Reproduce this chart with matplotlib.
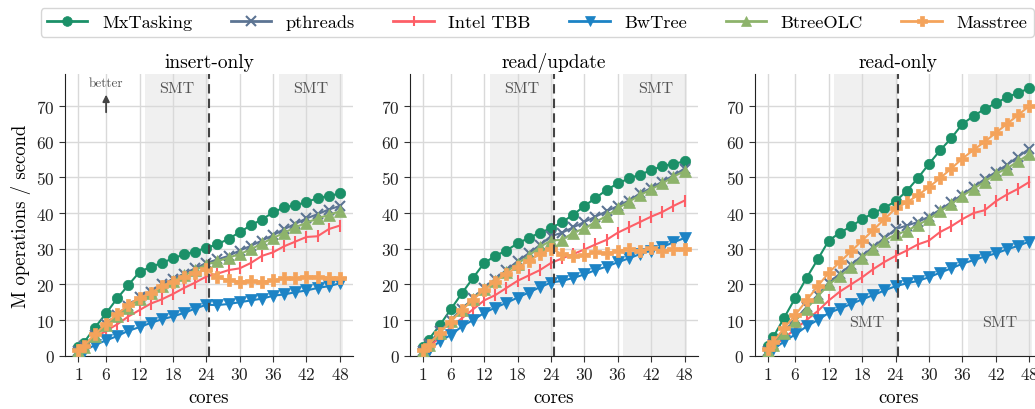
import matplotlib
matplotlib.use("Agg")
import matplotlib.pyplot as plt
from matplotlib.lines import Line2D

plt.rcParams["font.family"] = ["cmr10", "DejaVu Serif"]
plt.rcParams["axes.formatter.use_mathtext"] = True
plt.rcParams["mathtext.fontset"] = "cm"

cores = [1, 2] + list(range(4, 49, 2))

systems = ["MxTasking", "pthreads", "Intel TBB", "BwTree", "BtreeOLC", "Masstree"]
colors = ["#1b9068", "#5c7493", "#fd5f67", "#1c83c5", "#8db36b", "#f4a35b"]
markers = ["o", "x", "|", "v", "^", "P"]
sizes = [7.5, 7, 8, 8, 8, 8]

panels = ["insert-only", "read/update", "read-only"]

insert_only = {
    "MxTasking": [2.3, 3.7, 7.9, 11.9, 16.1, 19.8, 23.5, 24.9, 26.0, 27.3, 28.4, 29.2, 30.3,
                  31.2, 32.8, 34.6, 36.6, 38.2, 40.2, 41.6, 42.2, 43.1, 44.2, 44.8, 45.5],
    "pthreads": [1.3, 2.7, 5.8, 8.8, 11.5, 14.0, 16.5, 18.0, 20.0, 21.5, 23.0, 24.5, 26.0,
                 27.0, 28.0, 29.5, 30.8, 32.3, 33.8, 35.5, 37.0, 38.5, 39.7, 41.0, 42.0],
    "Intel TBB": [1.0, 2.5, 5.0, 7.0, 8.8, 11.0, 12.8, 14.6, 15.8, 17.3, 19.0, 20.5, 22.2,
                  23.0, 24.0, 24.5, 26.0, 28.0, 29.0, 30.7, 32.0, 33.3, 33.5, 35.5, 36.5],
    "BwTree": [0.5, 1.3, 3.0, 4.3, 5.5, 7.0, 8.0, 9.2, 10.2, 11.0, 12.0, 13.2, 14.3,
               14.2, 14.5, 15.0, 15.5, 16.0, 16.8, 17.2, 17.8, 18.3, 19.0, 19.5, 20.3],
    "BtreeOLC": [1.2, 2.5, 5.5, 8.5, 11.0, 13.5, 16.0, 17.5, 19.5, 21.0, 22.5, 24.0, 25.5,
                 26.5, 27.5, 28.5, 29.8, 31.5, 33.0, 34.5, 36.0, 37.3, 38.5, 39.5, 40.5],
    "Masstree": [1.5, 2.8, 6.0, 9.0, 11.7, 14.2, 16.3, 17.5, 19.5, 20.8, 22.0, 23.2, 24.2,
                 22.0, 21.2, 20.8, 21.0, 20.8, 21.1, 21.7, 21.7, 22.2, 22.1, 21.9, 21.8],
}

read_update = {
    "MxTasking": [2.3, 4.5, 8.5, 13.0, 17.5, 21.8, 26.0, 28.0, 29.5, 31.5, 33.0, 34.5, 35.7,
                  37.5, 39.5, 42.0, 44.2, 46.5, 48.3, 49.7, 50.8, 52.0, 53.2, 53.8, 54.5],
    "pthreads": [1.4, 3.2, 6.8, 10.0, 13.0, 16.2, 19.0, 21.5, 24.0, 26.5, 28.7, 31.0, 33.5,
                 34.5, 36.0, 37.5, 39.0, 40.5, 42.0, 43.5, 45.5, 47.0, 48.8, 50.5, 52.5],
    "Intel TBB": [1.0, 2.5, 5.0, 8.0, 10.5, 13.0, 15.5, 17.0, 19.0, 21.0, 22.5, 24.0, 26.0,
                  27.3, 28.5, 29.8, 31.2, 32.5, 34.5, 36.0, 37.5, 39.0, 40.3, 42.0, 43.5],
    "BwTree": [0.5, 1.5, 4.0, 5.8, 8.2, 10.0, 12.0, 13.5, 14.8, 16.3, 17.7, 19.2, 20.5,
               21.0, 21.8, 22.8, 24.0, 25.0, 26.2, 27.3, 28.5, 29.5, 30.5, 31.8, 33.0],
    "BtreeOLC": [1.3, 3.0, 6.5, 9.8, 12.8, 16.0, 18.7, 21.0, 23.5, 25.8, 28.0, 30.5, 32.3,
                 32.5, 34.5, 35.7, 37.5, 39.2, 41.3, 43.2, 45.0, 46.7, 48.3, 50.2, 51.8],
    "Masstree": [1.5, 3.0, 6.5, 9.5, 12.8, 15.7, 18.5, 20.8, 23.0, 24.8, 26.5, 28.5, 30.0,
                 28.5, 28.0, 28.3, 29.0, 28.8, 29.3, 30.0, 29.5, 30.2, 29.5, 30.0, 29.8],
}

read_only = {
    "MxTasking": [2.8, 5.2, 10.7, 16.3, 21.8, 27.0, 32.3, 34.5, 36.3, 38.3, 40.0, 41.5, 43.3,
                  46.2, 49.8, 53.8, 57.6, 61.0, 65.0, 67.2, 69.2, 70.8, 72.5, 73.7, 75.0],
    "pthreads": [1.4, 3.2, 6.8, 10.2, 13.6, 17.0, 20.5, 23.0, 25.5, 28.0, 30.5, 33.0, 35.5,
                 36.5, 37.5, 39.0, 41.0, 43.0, 45.2, 47.3, 49.5, 51.5, 53.5, 55.8, 58.0],
    "Intel TBB": [1.0, 2.5, 5.0, 7.5, 10.0, 12.5, 15.5, 18.0, 20.0, 22.0, 24.3, 26.3, 28.0,
                  29.5, 31.2, 32.3, 34.7, 36.3, 38.3, 40.0, 40.8, 43.3, 45.2, 46.8, 48.7],
    "BwTree": [0.5, 1.8, 4.0, 6.0, 8.2, 10.0, 12.0, 13.2, 14.5, 15.8, 17.0, 18.3, 19.5,
               20.3, 21.0, 22.0, 23.3, 24.5, 25.8, 26.8, 27.8, 28.7, 29.8, 30.8, 32.0],
    "BtreeOLC": [1.3, 3.0, 6.5, 9.8, 13.2, 16.6, 20.0, 22.3, 24.8, 27.5, 30.0, 32.3, 34.0,
                 35.0, 36.7, 38.3, 40.5, 42.5, 44.8, 46.8, 48.8, 51.0, 52.5, 54.5, 56.5],
    "Masstree": [1.8, 3.8, 7.8, 11.5, 15.5, 19.5, 23.3, 26.3, 29.3, 32.3, 35.3, 38.3, 41.3,
                 43.0, 45.0, 47.3, 49.8, 52.5, 55.3, 57.7, 60.0, 62.5, 65.0, 67.5, 70.0],
}

panel_data = [insert_only, read_update, read_only]
smt_spans = [(13, 24.5), (37, 48.5)]
xticks = [1, 6, 12, 18, 24, 30, 36, 42, 48]

fig = plt.figure(figsize=(10.35, 4.1), dpi=100)
lefts = [0.063, 0.396, 0.729]
width = 0.278
axes = [fig.add_axes([l, 0.13, width, 0.687]) for l in lefts]

for i, (ax, title, data) in enumerate(zip(axes, panels, panel_data)):
    ax.set_axisbelow(True)
    ax.grid(True, color="#d9d9d9", linewidth=1.0)
    for a, b in smt_spans:
        ax.axvspan(a, b, color="#f0f0f0", zorder=0, linewidth=0)
    for name, col, m, ms in zip(systems, colors, markers, sizes):
        mew = 1.5 if m in ("x", "|") else 0.5
        ax.plot(cores, data[name], color=col, marker=m, markersize=ms,
                markeredgewidth=mew, linewidth=1.5, label=name, zorder=3)
    ax.axvline(24.5, color="#444444", linestyle=(0, (4.5, 2.5)), linewidth=1.5, zorder=4)
    ax.set_xlim(-1.35, 50.35)
    ax.set_ylim(0, 79)
    ax.set_xticks(xticks)
    ax.set_yticks(range(0, 71, 10))
    ax.tick_params(labelsize=12.5, length=4, color="#333333", colors="#222222")
    for s in ("top", "right"):
        ax.spines[s].set_visible(False)
    for s in ("left", "bottom"):
        ax.spines[s].set_color("#222222")
    ax.set_title(title, fontsize=14, pad=5)
    ax.set_xlabel("cores", fontsize=13.5, labelpad=4)
    smt_y = 9.5 if i == 2 else 75
    for a, b in smt_spans:
        ax.text((a + b) / 2, smt_y, "SMT", ha="center", va="center",
                fontsize=11.5, color="#555555")

axes[0].set_ylabel("M operations / second", fontsize=13.5)
axes[0].annotate("", xy=(6, 74), xytext=(6, 67.5),
                 arrowprops=dict(arrowstyle="-|>", color="#444444", lw=1.3))
axes[0].text(6, 76.5, "better", ha="center", va="center", fontsize=9.5, color="#555555")

handles = [Line2D([], [], color=c, marker=m, markersize=7, markeredgewidth=1.5 if m in ("x", "|") else 0.5,
                  linewidth=2) for c, m in zip(colors, markers)]
fig.legend(handles, systems, loc="upper center", bbox_to_anchor=(0.519, 1.0), ncol=6,
           fontsize=13.2, frameon=True, fancybox=True, edgecolor="#cccccc",
           columnspacing=2.1, handlelength=2.2, borderpad=0.35)

fig.savefig("out.png", dpi=100)
